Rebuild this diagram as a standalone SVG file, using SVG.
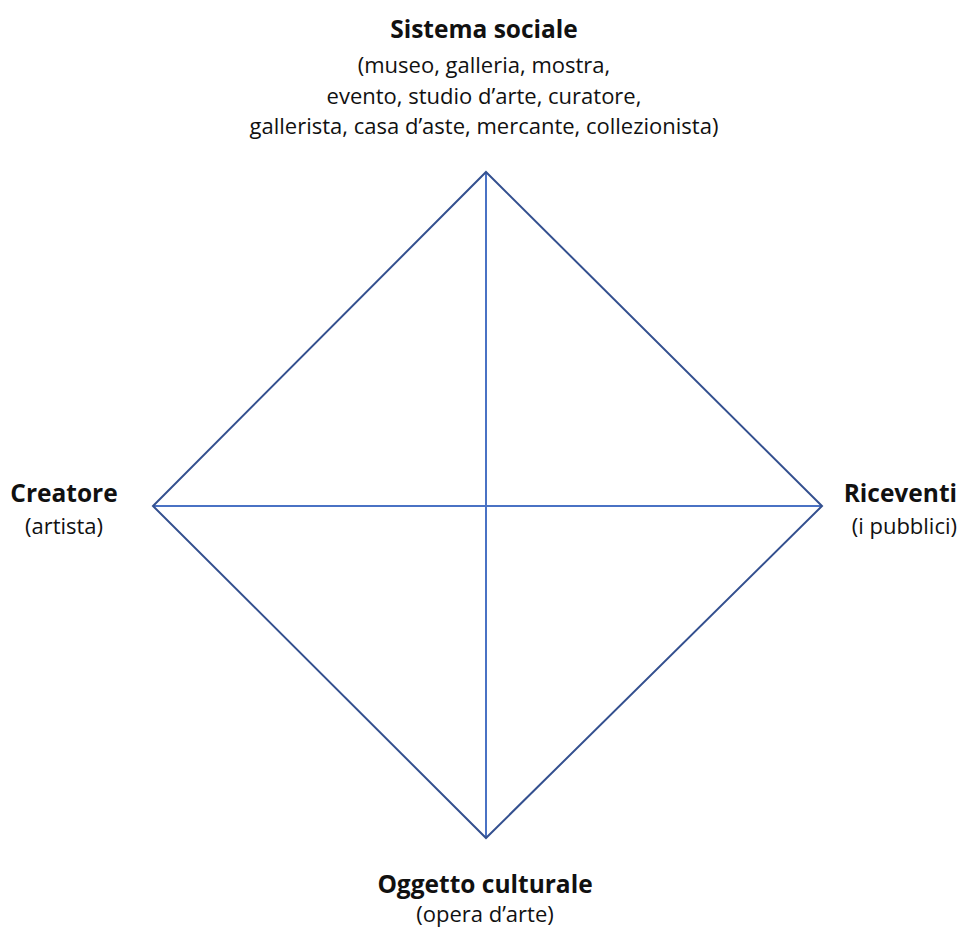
<svg xmlns="http://www.w3.org/2000/svg" width="959" height="929" viewBox="0 0 959 929">
<style>
.t{font-family:"Open Sans",Lato,"Liberation Sans",sans-serif;fill:#111;text-anchor:middle}
.b{font-weight:bold;font-size:24.5px}
.n{font-size:22px}
.e{text-anchor:end}
.edge{stroke:#34508f;stroke-width:2;fill:none}
.axis{stroke:#4a72c4;stroke-width:2;fill:none}
</style>
<rect width="959" height="929" fill="#fff"/>
<g id="connectors">
<line class="axis" x1="486" y1="172" x2="486" y2="838"/>
<line class="axis" x1="153" y1="506" x2="822" y2="506"/>
<polygon class="edge" points="486,172 822,506 486,838 153,506"/>
</g>
<g id="sistema">
<text class="t b" x="484" y="38">Sistema sociale</text>
<text class="t n" x="484" y="73">(museo, galleria, mostra,</text>
<text class="t n" x="484" y="104">evento, studio d’arte, curatore,</text>
<text class="t n" x="484" y="134">gallerista, casa d’aste, mercante, collezionista)</text>
</g>
<g id="creatore">
<text class="t b" x="64" y="502">Creatore</text>
<text class="t n" x="64" y="534">(artista)</text>
</g>
<g id="riceventi">
<text class="t b e" x="957" y="502">Riceventi</text>
<text class="t n e" x="957" y="534">(i pubblici)</text>
</g>
<g id="oggetto">
<text class="t b" x="485" y="893">Oggetto culturale</text>
<text class="t n" x="485" y="922">(opera d’arte)</text>
</g>
</svg>
